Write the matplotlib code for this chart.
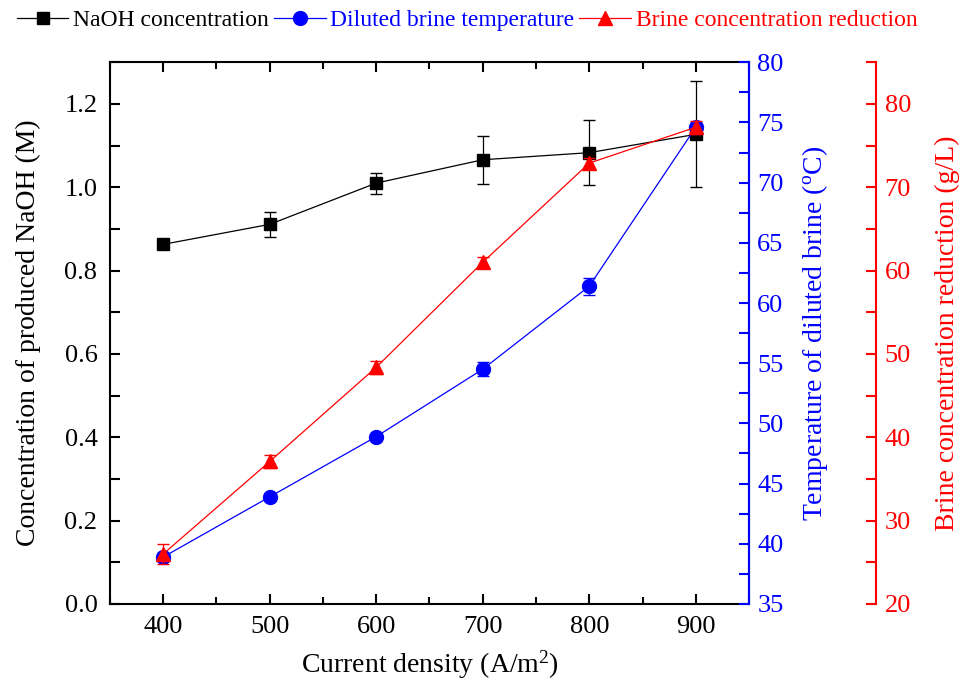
import numpy as np
import matplotlib
matplotlib.use("Agg")
import matplotlib.pyplot as plt
from matplotlib.ticker import MultipleLocator
from matplotlib.lines import Line2D

plt.rcParams['font.family'] = ['Liberation Serif', 'DejaVu Serif']
plt.rcParams['mathtext.fontset'] = 'custom'
plt.rcParams['mathtext.rm'] = 'Liberation Serif'
plt.rcParams['mathtext.it'] = 'Liberation Serif:italic'

# data
current = [400, 500, 600, 700, 800, 900]
naoh = [0.863, 0.911, 1.010, 1.066, 1.083, 1.127]
naoh_err = [0.0, 0.03, 0.025, 0.058, 0.078, 0.127]
temp = [38.9, 43.9, 48.9, 54.5, 61.4, 74.6]
temp_err = [0.3, 0.0, 0.0, 0.6, 0.7, 0.0]
brine = [26.0, 37.1, 48.4, 61.0, 72.9, 77.2]
brine_err = [1.2, 0.8, 0.8, 0.6, 0.6, 0.8]

fig = plt.figure(figsize=(9.63, 6.84), dpi=100)
ax = fig.add_axes([0.1142, 0.117, 0.6636, 0.792])
ax2 = ax.twinx()
ax3 = ax.twinx()
ax3.spines['right'].set_position(('axes', 1.199))

ax.errorbar(current, naoh, yerr=naoh_err, color='black', marker='s', ms=9,
            lw=0.9, capsize=4, elinewidth=0.9)
ax2.errorbar(current, temp, yerr=temp_err, color='blue', marker='o', ms=10,
             lw=0.9, capsize=4, elinewidth=0.9)
ax3.errorbar(current, brine, yerr=brine_err, color='red', marker='^', ms=10,
             lw=0.9, capsize=4, elinewidth=0.9)

ax.set_xlim(350, 950)
ax.set_ylim(0, 1.3)
ax2.set_ylim(35, 80)
ax3.set_ylim(20, 85)

ax.xaxis.set_major_locator(MultipleLocator(100))
ax.xaxis.set_minor_locator(MultipleLocator(50))
ax.yaxis.set_major_locator(MultipleLocator(0.2))
ax.yaxis.set_minor_locator(MultipleLocator(0.1))
ax2.yaxis.set_major_locator(MultipleLocator(5))
ax2.yaxis.set_minor_locator(MultipleLocator(2.5))
ax3.yaxis.set_major_locator(MultipleLocator(10))
ax3.yaxis.set_minor_locator(MultipleLocator(5))

ax.tick_params(axis='x', which='both', direction='in', top=True, labelsize=19,
               width=1.5, pad=9)
ax.tick_params(axis='x', which='major', length=7)
ax.tick_params(axis='x', which='minor', length=5)
ax.tick_params(axis='y', which='both', direction='in', length=7, width=1.5,
               labelsize=19, pad=9)
ax.yaxis.set_major_formatter(plt.FormatStrFormatter('%.1f'))
ax2.tick_params(axis='y', which='both', direction='in', length=7, width=1.5,
                colors='blue', labelsize=19, pad=6)
ax3.tick_params(axis='y', which='both', direction='in', length=7, width=1.5,
                colors='red', labelsize=19, pad=6)

for s in ax.spines.values():
    s.set_linewidth(1.5)
ax2.spines['right'].set_color('blue')
ax2.spines['right'].set_linewidth(1.5)
ax3.spines['right'].set_color('red')
ax3.spines['right'].set_linewidth(1.5)
for s in ['left', 'top', 'bottom']:
    ax2.spines[s].set_visible(False)
    ax3.spines[s].set_visible(False)

ax.set_xlabel('Current density (A/m$^2$)', fontsize=20, labelpad=7)
ax.set_ylabel('Concentration of produced NaOH (M)', fontsize=20, labelpad=17)
ax2.set_ylabel('Temperature of diluted brine ($^{\\rm o}$C)', fontsize=20,
               color='blue', labelpad=12)
ax3.set_ylabel('Brine concentration reduction (g/L)', fontsize=20,
               color='red', labelpad=17)

handles = [
    Line2D([], [], color='black', marker='s', ms=9, lw=0.9),
    Line2D([], [], color='blue', marker='o', ms=10, lw=0.9),
    Line2D([], [], color='red', marker='^', ms=10, lw=0.9),
]
names = ['NaOH concentration', 'Diluted brine temperature', 'Brine concentration reduction']
leg = fig.legend(handles, names, loc='upper left', bbox_to_anchor=(0.0, 1.01),
                 ncol=3, frameon=False, fontsize=17, handlelength=2.2,
                 handletextpad=0.2, columnspacing=0.2, borderaxespad=0.3)
for txt, c in zip(leg.get_texts(), ['black', 'blue', 'red']):
    txt.set_color(c)

fig.savefig('out.png', dpi=100)
